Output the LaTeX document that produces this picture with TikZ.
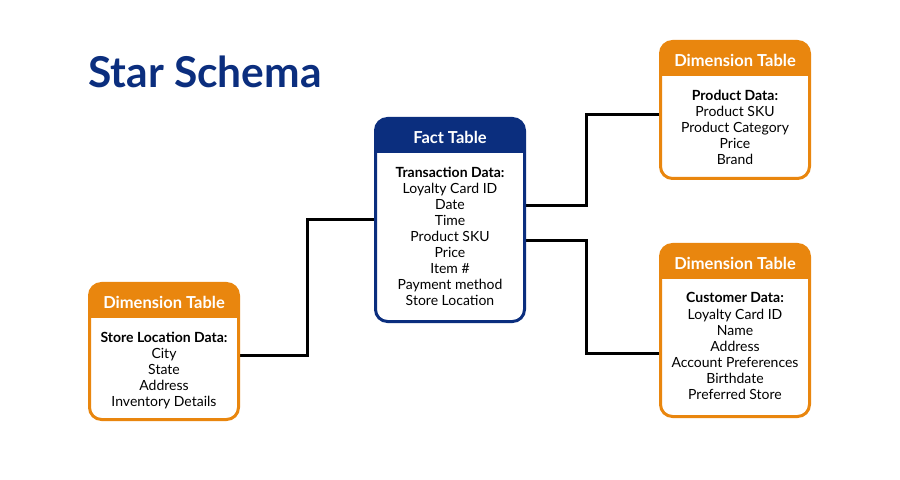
\documentclass[tikz,border=0pt]{standalone}
\usepackage{fontspec}
\setmainfont{Lato}
\definecolor{navy}{HTML}{0B2E7E}
\definecolor{orng}{HTML}{E9860E}
\begin{document}
\begin{tikzpicture}[x=1bp,y=-1bp,
  tbl/.style={rectangle, fill=white, minimum width=149bp, inner sep=0pt, outer sep=0pt},
  hdr/.style={text=white, font=\fontsize{16.5bp}{18bp}\selectfont\bfseries, inner sep=0pt},
  body/.style={anchor=north, align=center, inner sep=0pt, font=\fontsize{14bp}{16.1bp}\selectfont},
  conn/.style={line width=3bp, black},
  ttl/.style={anchor=base west, inner sep=0pt, text=navy, font=\fontsize{42.5bp}{46bp}\selectfont\bfseries}
]
\useasboundingbox (0,0) rectangle (900,480);
\fill[white] (0,0) rectangle (900,480);

\node[ttl] (title) at (88,88) {Star Schema};

% boxes (backgrounds)
\node[tbl, minimum height=203bp] (fact) at (450,220) {};
\node[tbl, minimum height=137bp] (prod) at (735,110) {};
\node[tbl, minimum height=172bp] (cust) at (735,330.5) {};
\node[tbl, minimum height=136bp] (store) at (164,351.5) {};

% connectors
\draw[conn] ([yshift=-3.5bp]store.east) -- ++(69,0) |- (fact.west);
\draw[conn] ([yshift=14bp]fact.east) -- ++(62,0) |- ([yshift=-5bp]prod.west);
\draw[conn] ([yshift=-21bp]fact.east) -- ++(62,0) |- ([yshift=-22.5bp]cust.west);

% headers and borders
\foreach \b/\c in {fact/navy, prod/orng, cust/orng, store/orng}{
  \begin{scope}
    \clip[rounded corners=12bp] (\b.north west) rectangle (\b.south east);
    \fill[white] (\b.north west) rectangle (\b.south east);
    \fill[\c] (\b.north west) rectangle ([yshift=-35bp]\b.north east);
  \end{scope}
  \draw[\c, line width=3bp, rounded corners=12bp] (\b.north west) rectangle (\b.south east);
}

\node[hdr] (facth) at ([yshift=-19bp]fact.north) {Fact Table};
\node[hdr] (prodh) at ([yshift=-19bp]prod.north) {Dimension Table};
\node[hdr] (custh) at ([yshift=-19bp]cust.north) {Dimension Table};
\node[hdr] (storeh) at ([yshift=-19bp]store.north) {Dimension Table};

\node[body] (factb) at ([yshift=-48bp]fact.north) {\textbf{Transaction Data:}\\Loyalty Card ID\\Date\\Time\\Product SKU\\Price\\Item \#\\Payment method\\Store Location};
\node[body] (prodb) at ([yshift=-48bp]prod.north) {\textbf{Product Data:}\\Product SKU\\Product Category\\Price\\Brand};
\node[body] (custb) at ([yshift=-48bp]cust.north) {\textbf{Customer Data:}\\Loyalty Card ID\\Name\\Address\\Account Preferences\\Birthdate\\Preferred Store};
\node[body] (storeb) at ([yshift=-48bp]store.north) {\textbf{Store Location Data:}\\City\\State\\Address\\Inventory Details};
\end{tikzpicture}
\end{document}
